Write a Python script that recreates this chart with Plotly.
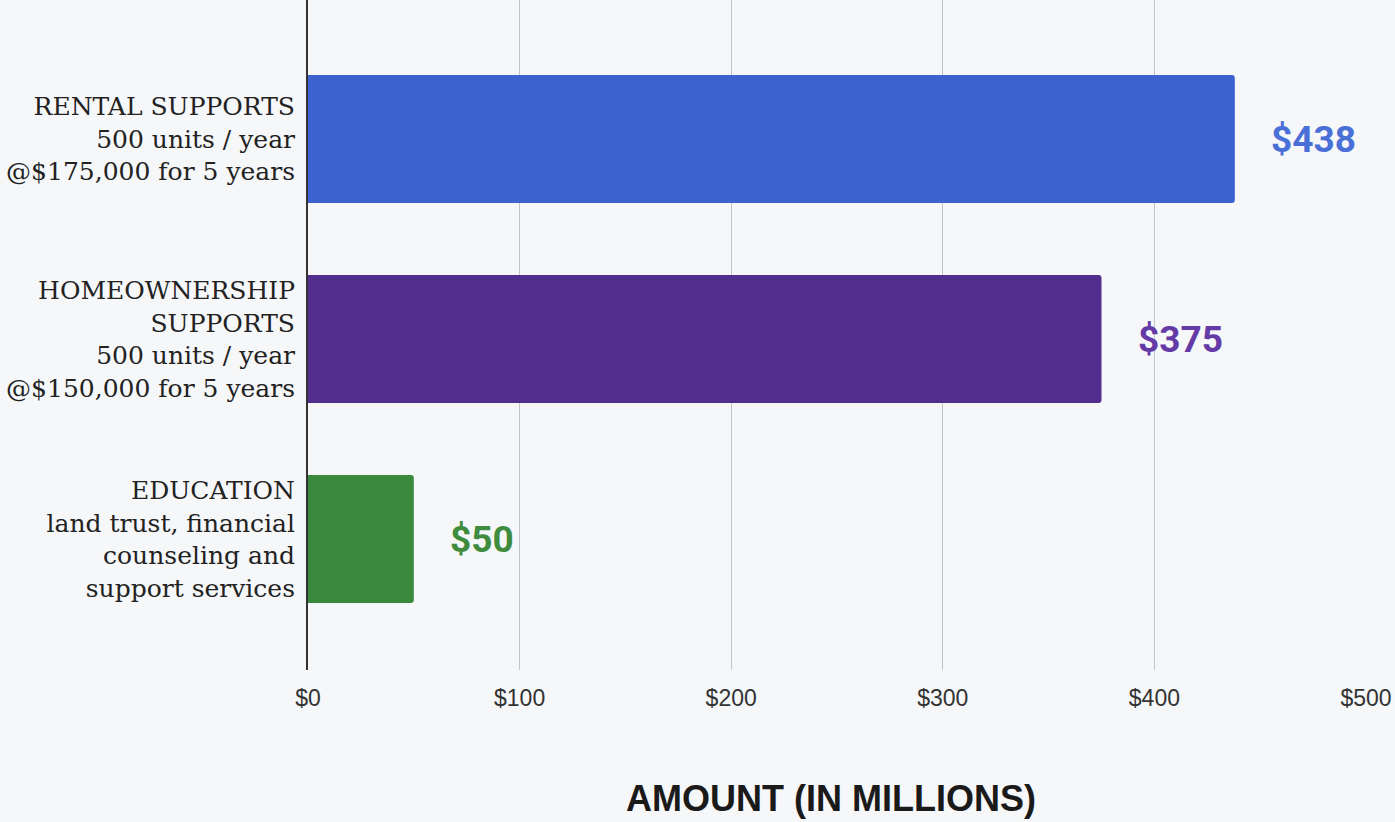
import plotly.graph_objects as go

# Program cost breakdown (millions of dollars)
categories = [
    "RENTAL SUPPORTS<br>500 units / year<br>@$175,000 for 5 years",
    "HOMEOWNERSHIP<br>SUPPORTS<br>500 units / year<br>@$150,000 for 5 years",
    "EDUCATION<br>land trust, financial<br>counseling and<br>support services",
]
amounts = [438, 375, 50]
value_labels = ["$438", "$375", "$50"]
bar_colors = ["#3b62cf", "#522e8e", "#3a8a3d"]
label_colors = ["#4a6fd6", "#643aa6", "#3f8c3f"]
tick_values = [0, 100, 200, 300, 400, 500]
tick_labels = ["$0", "$100", "$200", "$300", "$400", "$500"]
axis_title = "AMOUNT (IN MILLIONS)"

bg = "#f6f7f9"

fig = go.Figure(
    go.Bar(
        x=amounts,
        y=categories,
        orientation="h",
        marker=dict(color=bar_colors, line=dict(width=0)),
        width=0.64,
        hoverinfo="skip",
    )
)

# Value labels to the right of each bar
for cat, val, txt, col in zip(categories, amounts, value_labels, label_colors):
    fig.add_annotation(
        x=val, y=cat, xref="x", yref="y",
        text=f"<b>{txt}</b>", showarrow=False,
        xanchor="left", yanchor="middle", xshift=34,
        font=dict(family="Roboto", size=37, color=col),
    )

fig.add_annotation(
    x=0.494, y=-0.192, xref="paper", yref="paper",
    text=f"<b>{axis_title}</b>", showarrow=False,
    xanchor="center", yanchor="middle",
    font=dict(family="Liberation Sans", size=36, color="#1a1a1a"),
)

fig.update_layout(
    width=1395, height=822,
    margin=dict(l=308, r=29, t=0, b=152),
    paper_bgcolor=bg, plot_bgcolor=bg,
    showlegend=False,
    barcornerradius=3,
    xaxis=dict(
        range=[0, 500],
        tickvals=tick_values, ticktext=tick_labels,
        showgrid=True, gridcolor="#c4c4c4", gridwidth=1,
        zeroline=False,
        ticks="outside", ticklen=7, tickcolor="rgba(0,0,0,0)",
        tickfont=dict(family="Liberation Sans", size=23, color="#333333"),
        fixedrange=True,
    ),
    yaxis=dict(
        type="category",
        categoryorder="array", categoryarray=categories,
        range=[2.655, -0.695],
        showline=True, linecolor="#333333", linewidth=2,
        showgrid=False,
        ticks="outside", ticklen=6, tickcolor="rgba(0,0,0,0)",
        tickfont=dict(family="DejaVu Serif", size=25, color="#222222"),
        fixedrange=True,
    ),
)

fig.write_html("out.html", config={"displayModeBar": False})
